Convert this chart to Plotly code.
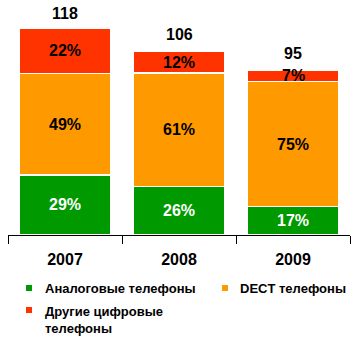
import plotly.graph_objects as go

years = ["2007", "2008", "2009"]
totals = [118, 106, 95]
pct_analog = [29, 26, 17]
pct_dect = [49, 61, 75]
pct_other = [22, 12, 7]
series_names = ["Аналоговые телефоны", "DECT телефоны", "Другие цифровые<br>телефоны"]
colors = ["#009900", "#FF9900", "#FF3300"]
text_colors = ["white", "black", "black"]

FONT = "Arial, Liberation Sans, sans-serif"
W, H = 362, 341
ml, mr, mt, mb = 8, 12, 10, 106
pw, ph = W - ml - mr, H - mt - mb

def px_x(px):
    return (px - ml) / pw

def px_y(py):
    return (H - mb - py) / ph

fig = go.Figure()
pcts = [pct_analog, pct_dect, pct_other]
annotations = []
base = [0.0] * len(years)
for i, p in enumerate(pcts):
    vals = [t * v / 100 for t, v in zip(totals, p)]
    fig.add_trace(go.Bar(
        x=years, y=vals, name=series_names[i],
        marker=dict(color=colors[i], line=dict(color="white", width=1.5)),
        width=0.8, showlegend=False, hoverinfo="skip"))
    for j in range(len(years)):
        annotations.append(dict(
            x=j, y=base[j] + vals[j] / 2, xref="x", yref="y",
            text=f"{p[j]}%", showarrow=False,
            font=dict(family=FONT, size=16, color=text_colors[i], weight="bold")))
        base[j] += vals[j]

for j in range(len(years)):
    annotations.append(dict(
        x=j, y=totals[j], xref="x", yref="y", yanchor="bottom", yshift=4,
        text=str(totals[j]), showarrow=False,
        font=dict(family=FONT, size=16, color="black", weight="bold")))

# legend (manual)
legend_items = [
    (26, 43, 288, 0),
    (222, 238, 288, 1),
    (26, 43, 319.5, 2),
]
shapes = []
for mx, tx, ty, k in legend_items:
    my = ty if k != 2 else 310
    shapes.append(dict(type="rect", xref="paper", yref="paper",
                       x0=px_x(mx), x1=px_x(mx + 6), y0=px_y(my + 3), y1=px_y(my - 3),
                       fillcolor=colors[k], line=dict(width=0)))
    annotations.append(dict(
        x=px_x(tx), y=px_y(ty), xref="paper", yref="paper",
        xanchor="left", yanchor="middle", align="left",
        text=series_names[k], showarrow=False,
        font=dict(family=FONT, size=13, color="black", weight="bold")))

maxy = (ph) / (207 / 118)
fig.update_layout(
    width=W, height=H, margin=dict(l=ml, r=mr, t=mt, b=mb),
    barmode="stack", plot_bgcolor="white", paper_bgcolor="white",
    annotations=annotations, shapes=shapes, showlegend=False,
    xaxis=dict(type="category", range=[-0.5, 2.5], showline=True, linecolor="black", linewidth=1,
               ticks="outside", tickson="boundaries", ticklen=8, tickcolor="black",
               ticklabelstandoff=10,
               tickfont=dict(family=FONT, size=16, color="black", weight="bold"),
               showgrid=False),
    yaxis=dict(range=[0, maxy], visible=False, showgrid=False),
)
fig.write_html("out.html")
